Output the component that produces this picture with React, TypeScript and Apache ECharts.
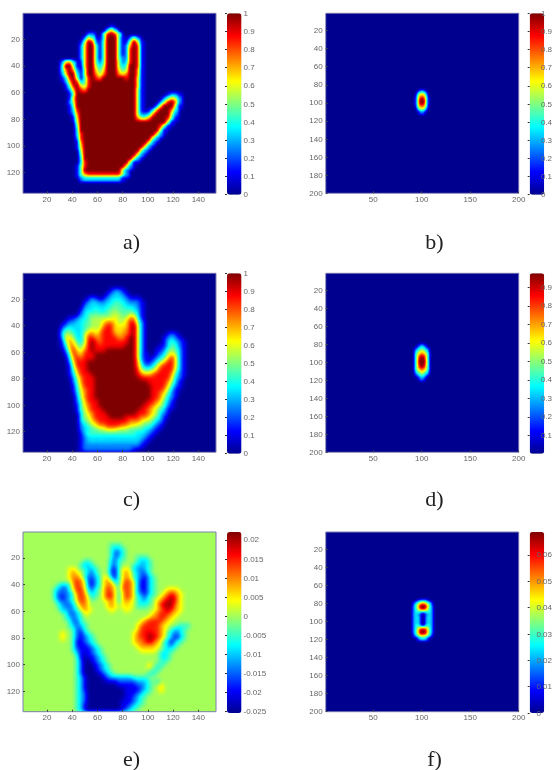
import React, { useEffect, useRef } from "react";
import * as echarts from "echarts";

const JET = ["#00008f", "#0000ff", "#0080ff", "#00ffff", "#80ff80", "#ffff00", "#ff8000", "#ff0000", "#800000"];
const JET_R = "0 0 0 0 0.5 1 1 1 0.5";
const JET_G = "0 0 0.5 1 1 1 0.5 0 0";
const JET_B = "0.56 1 1 1 0.5 0 0 0 0";

// Tick labels
const handXTicks = [20, 40, 60, 80, 100, 120, 140];
const handYTicks = [20, 40, 60, 80, 100, 120];
const psfXTicks = [50, 100, 150, 200];
const psfYTicks = [20, 40, 60, 80, 100, 120, 140, 160, 180, 200];
const unitTicks = [0, 0.1, 0.2, 0.3, 0.4, 0.5, 0.6, 0.7, 0.8, 0.9, 1];
const dTicks = [0.1, 0.2, 0.3, 0.4, 0.5, 0.6, 0.7, 0.8, 0.9];
const eTicks = [-0.025, -0.02, -0.015, -0.01, -0.005, 0, 0.005, 0.01, 0.015, 0.02];
const fTicks = [0, 0.01, 0.02, 0.03, 0.04, 0.05, 0.06];

// Level read for each digit in the rows below
const unitLevels = [0, 0.12, 0.25, 0.35, 0.45, 0.55, 0.65, 0.75, 0.87, 1];
const eLevels = [-0.025, -0.02, -0.015, -0.01, -0.005, 0, 0.005, 0.01, 0.015, 0.02];
const fLevels = [0, 0.008, 0.017, 0.024, 0.031, 0.038, 0.045, 0.052, 0.06, 0.0687];

// Cells, one string per row: "col:digits" or "from-to=digit"
const aRows = [
  "", "", "",
  "23:1",
  "22:363",
  "17:22 21:48984",
  "16:264 20:1399941 28:252",
  "15:15982 20:1499941 27:15961",
  "15:26994 20:1499941 27:27981",
  "15:26994 20:1499941 27:28981",
  "15:26994 20:1499941 27:28981",
  "15:26994149994228981",
  "10:2673 15:16994249995238981",
  "10:39951 16:6995359995349981",
  "10:37972 16:5996469996459971",
  "10:26993 16:5997579997679971",
  "10:138951 16:4898799999989961",
  "11:26983 16:4899999999999961",
  "11:148965 17:899999999999961",
  "12:26987 17:999999999999951",
  "12:14 14-29=9 30:51 38:1221",
  "12:16 14-29=9 30:51 37:24652",
  "12:25 14-29=9 30:51 36:258972",
  "12:14 14-29=9 30:51 35:269995 41:1",
  "12:1 13:38 15-29=9 30:51 33:13799973",
  "13:27 15-29=9 30:5223 34:7 35-38=9 39:52",
  "13:16 15-29=9 30:7557 34-37=9 38:841",
  "14:5 15-37=9 38:51",
  "14:4 15-35=9 36:841",
  "14:3 15-35=9 36:51",
  "14:38 16-34=9 35:62",
  "14:28 16-33=9 34:52",
  "14:17 16-32=9 33:62",
  "14:16 16-31=9 32:62",
  "15:5 16-30=9 31:52",
  "15:4 16-29=9 30:62",
  "15:3 16-28=9 29:62",
  "15:38 17-27=9 28:51",
  "14:148 17-26=9 27:62",
  "14:149 17-25=9 26:52",
  "14:147 17-25=8 26:52",
  "15:2 16-25=3 26:1",
];

const cRows = [
  "", "", "", "",
  "23:1221",
  "22:123321",
  "17:121 21:1233332111",
  "16:1233223344332221",
  "16:2333333444433321",
  "15:13334334454444331",
  "15:23444444555445531",
  "12:11233455555565557741",
  "11:122334455567765568852",
  "10:1233334455578866668962",
  "10:2443334565688866678962",
  "10:3554335776788876778962 38:121",
  "10:2665335887788887789962 37:12321",
  "10:1576435898788888889962 37:134321",
  "10:1377546898888888899962 36:1134421",
  "11:26865789888 22-29=9 30:62 35:11245431",
  "11:148768889 20-29=9 30:621 35:12356531",
  "12:37878889 20-29=9 30:621 34:123468631",
  "12:26888 17-29=9 30:731 33:1235688631",
  "12:15888 17-29=9 30:7422357888631",
  "12:14788 17-29=9 30:8544568888531",
  "12:136888 18-29=9 30:8766788887421",
  "13:257888 19-30=9 31:88888888632",
  "13:247888 19-32=9 33:888887531",
  "13:146888 19-33=9 34:88886421",
  "13:136788 19-33=9 34:8887531",
  "14:35788 19-33=9 34:8876421",
  "14:25788 19-33=9 34:887532",
  "14:246888 20-32=9 33:8876431",
  "14:1467889 21-31=9 32:88765421",
  "14:14578889 22-30=9 31:88765431",
  "15:3567888 22-29=9 30:88876532",
  "15:35578888 23-26=9 27:88887765431",
  "15:34567 20-26=8 27:8777655432",
  "15:2345677888877665544321",
  "15:233445566655544443321",
  "15:13 17-29=4 30:33321",
  "15:12 17-31=3 32:21",
  "15:12 17-30=3 31:21",
  "15:1 16-29=2 30:21",
  "15:1 16-28=2 29:1",
];

const eRows = [
  "", "", "",
  "23:444",
  "23:4334",
  "23:4224",
  "23:4234 30:444",
  "16:44 23:324 30:4334",
  "15:4334 23:324 29:43334",
  "12:66 16:4334 23:21 25:4 26:66 29:33234",
  "12:676 16:4324 23:214 26:676 29:43224",
  "12:6776 16:42234 21:66 23:314 26:676 29:432134",
  "13:787 17:2134 21:676 24:34 26:687 30:31134",
  "9:4334 13:7876 17:2134 21:677 25:4 26:787 30:31134",
  "8:43224 13:6886 17:324 21:6876 25:4 26:787 30:31134 38:666",
  "8:4222 12:3 14:787 17:434 21:6886 25:4 26:687 30:32134 37:67876",
  "8:421234 14:787 18:4 21:6886 25:4 26:687 30:4324 36:678986",
  "9:32234 14:687 22:676 25:4 26:676 30:4334 35:6789986",
  "9:432235 15:77 22:676 26:666 30:444 35:6899976",
  "10:33234 15:676 23:6 27:6 35:6789876",
  "11:42234 16:6 34:6788876",
  "11:43234 33:6778876",
  "12:4224 31:67888876",
  "12:43234 30:67888876 41:444",
  "13:4224 30:68888876 39:4334",
  "10:6 13:42134 29:678898876 38:43234",
  "10:6 13:421234 29:678899876 38:43124",
  "13:411234 29:67789876 37:43134",
  "13:4111234 30:677776 37:4324",
  "13:42111234 31:6666 37:434",
  "14:3111234 36:434",
  "14:41011234 36:434",
  "14:42001234 36:44",
  "14:420001234 33:6 35:44",
  "14:420001234 34:44",
  "14:4200001234 33:44",
  "14:4310000123333334444",
  "14:43100000111222223334 35:4",
  "14:431 17-24=0 25:111112234 36:6",
  "14:431 17-26=0 27:1111234 36:6",
  "14:432 17-26=0 27:111234",
  "14:432 17-26=0 27:11234",
  "14:432 17-25=0 26:111234",
  "14:431 17-25=0 26:11234",
  "14:431 17-25=0 26:1234",
];

const bFirstRow = 43;
const bRows = [
  "44:000012210000",
  "44:000134431000",
  "44:000256652000",
  "44:000367763000",
  "44:001378873100",
  "44:001389983100",
  "44:001389983100",
  "44:001389983100",
  "44:001378873100",
  "44:000367763000",
  "44:000256652000",
  "44:000134431000",
  "44:000012210000",
];

const dFirstRow = 40;
const dRows = [
  "44:000012210000",
  "44:000123321000",
  "44:001234432100",
  "44:002345543200",
  "44:002456654200",
  "44:003567765300",
  "44:003578875300",
  "44:003589985300",
  "44:003589985300",
  "44:003599995300",
  "44:003599995300",
  "44:003589985300",
  "44:003589985300",
  "44:003578875300",
  "44:003567765300",
  "44:002456654200",
  "44:002345543200",
  "44:001234432100",
  "44:000123321000",
  "44:000012210000",
];

const fFirstRow = 38;
const fRows = [
  "44:0001233321000",
  "44:0123455543210",
  "44:0134678764310",
  "44:0235799975320",
  "44:0235799975320",
  "44:0234678764320",
  "44:0234444444320",
  "44:0233321233320",
  "44:0233210123320",
  "44:0233310133320",
  "44:0233310133320",
  "44:0233310133320",
  "44:0233310133320",
  "44:0233310133320",
  "44:0234421244320",
  "44:0234566654320",
  "44:0235788875320",
  "44:0235799975320",
  "44:0235799975320",
  "44:0134677764310",
  "44:0123455543210",
  "44:0001233321000",
];

const captions = ["a)", "b)", "c)", "d)", "e)", "f)"];

function decodeCells(rows: string[], levels: number[], firstRow = 0) {
  const cells = new Map<string, number[]>();
  rows.forEach((row, i) => {
    const r = firstRow + i;
    row.split(" ").filter(Boolean).forEach((token) => {
      if (token.includes("=")) {
        const [span, d] = token.split("=");
        const [from, to] = span.split("-").map(Number);
        for (let c = from; c <= to; c++) cells.set(c + "," + r, [c, r, levels[Number(d)]]);
      } else {
        const [start, digits] = token.split(":");
        [...digits].forEach((d, k) => {
          const c = Number(start) + k;
          cells.set(c + "," + r, [c, r, levels[Number(d)]]);
        });
      }
    });
  });
  return [...cells.values()];
}

const ROWS_Y = { top: [13.3, 180], mid: [273.3, 179], low: [532, 179.7] };
const LEFT_X = 23;
const RIGHT_X = 325.7;
const PLOT_W = 193;
const BLEED = 10;

const panels = [
  { cells: decodeCells(aRows, unitLevels), cols: 51, rows: 45, min: 0, max: 1, x: LEFT_X, y: ROWS_Y.top, hand: true, ticks: unitTicks, barMin: 0, barMax: 1, bg: "#000", blur: 1.6, capY: 241 },
  { cells: decodeCells(bRows, unitLevels, bFirstRow), cols: 100, rows: 100, min: 0, max: 1, x: RIGHT_X, y: ROWS_Y.top, hand: false, ticks: unitTicks, barMin: 0, barMax: 1, bg: "#000", blur: 0.9, capY: 241 },
  { cells: decodeCells(cRows, unitLevels), cols: 51, rows: 45, min: 0, max: 1, x: LEFT_X, y: ROWS_Y.mid, hand: true, ticks: unitTicks, barMin: 0, barMax: 1, bg: "#000", blur: 2, capY: 498 },
  { cells: decodeCells(dRows, unitLevels, dFirstRow), cols: 100, rows: 100, min: 0, max: 1, x: RIGHT_X, y: ROWS_Y.mid, hand: false, ticks: dTicks, barMin: 0.001, barMax: 0.976, bg: "#000", blur: 0.9, capY: 498 },
  { cells: decodeCells(eRows, eLevels), cols: 51, rows: 45, min: -0.0255, max: 0.0221, x: LEFT_X, y: ROWS_Y.low, hand: true, ticks: eTicks, barMin: -0.0255, barMax: 0.0221, bg: "#898989", blur: 2.2, capY: 758 },
  { cells: decodeCells(fRows, fLevels, fFirstRow), cols: 100, rows: 100, min: 0, max: 0.0687, x: RIGHT_X, y: ROWS_Y.low, hand: false, ticks: fTicks, barMin: 0, barMax: 0.0687, bg: "#000", blur: 0.9, capY: 758 },
];

const labelStyle = { color: "#666", fontSize: 8, fontFamily: "Liberation Sans" };

function buildMainOption() {
  const grid: any[] = [];
  const xAxis: any[] = [];
  const yAxis: any[] = [];
  const visualMap: any[] = [];
  const graphic: any[] = [];
  panels.forEach((p, i) => {
    const g = grid.length;
    grid.push({ left: p.x, top: p.y[0], width: PLOT_W, height: p.y[1], show: true, borderColor: "#7f7fb5", borderWidth: 1, backgroundColor: "transparent" });
    const xT = p.hand ? handXTicks : psfXTicks;
    const yT = p.hand ? handYTicks : psfYTicks;
    xAxis.push({
      type: "value", gridIndex: g, min: 1, max: p.hand ? 154 : 200,
      axisLine: { show: false }, splitLine: { show: false },
      axisTick: { show: true, inside: true, length: 2, customValues: xT, lineStyle: { color: "#444" } },
      axisLabel: { margin: 2, customValues: xT, formatter: (v: number) => String(v), ...labelStyle },
    });
    yAxis.push({
      type: "value", gridIndex: g, inverse: true, min: p.hand ? 0.5 : 1, max: p.hand ? 135.5 : 200,
      axisLine: { show: false }, splitLine: { show: false },
      axisTick: { show: true, inside: true, length: 2, customValues: yT, lineStyle: { color: "#444" } },
      axisLabel: { margin: 3, customValues: yT, formatter: (v: number) => String(v), ...labelStyle },
    });
    const barX = p.x + PLOT_W + 11;
    const barH = p.y[1] + 1.4;
    const b = grid.length;
    grid.push({ left: barX, top: p.y[0], width: 14.5, height: barH });
    xAxis.push({ type: "value", gridIndex: b, show: false, min: 0, max: 1 });
    yAxis.push({
      type: "value", gridIndex: b, position: "right", min: p.barMin, max: p.barMax, z: 5,
      axisLine: { show: false }, splitLine: { show: false },
      axisTick: { show: true, inside: true, length: 2, customValues: p.ticks, lineStyle: { color: "#333" } },
      axisLabel: { margin: 2, customValues: p.ticks, formatter: (v: number) => String(v), ...labelStyle },
    });
    visualMap.push({
      type: "continuous", show: true, calculable: false, hoverLink: false, padding: 0,
      min: p.min, max: p.max, left: barX, top: p.y[0], itemWidth: 14.5, itemHeight: barH,
      inRange: { color: JET }, seriesIndex: [],
    });
    graphic.push({
      type: "text", x: (i % 2 === 0 ? 131.5 : 434.5), y: p.capY,
      style: { text: captions[i], fill: "#222", font: "22px 'Liberation Serif'", textAlign: "center", textVerticalAlign: "middle" },
    });
  });
  return { animation: false, backgroundColor: "transparent", grid, xAxis, yAxis, visualMap, graphic, series: [] };
}

function buildHeatOption(p: any) {
  const cat = (n: number) => Array.from({ length: n }, (_, k) => String(k));
  const grey = (v: number) => {
    const g = Math.round((255 * (v - p.min)) / (p.max - p.min));
    return `rgb(${g},${g},${g})`;
  };
  return {
    animation: false,
    backgroundColor: "transparent",
    grid: { left: 0, top: 0, right: 0, bottom: 0 },
    xAxis: { type: "category", show: false, data: cat(p.cols) },
    yAxis: { type: "category", show: false, inverse: true, data: cat(p.rows) },
    // intensity is drawn in grey; the page's SVG filter smooths it and maps it through the jet table
    visualMap: { show: false, min: p.min, max: p.max, inRange: { color: ["#000000", "#ffffff"] }, dimension: 2 },
    series: [{
      type: "heatmap", progressive: 0, silent: true,
      data: p.cells.map((cell: number[]) => ({ value: cell, itemStyle: { borderColor: grey(cell[2]), borderWidth: 1 } })),
    }],
  };
}

export default function App() {
  const mainRef = useRef<HTMLDivElement>(null);
  const heatRefs = useRef<(HTMLDivElement | null)[]>([]);

  useEffect(() => {
    const charts = heatRefs.current.map((el, i) => {
      const c = echarts.init(el as HTMLDivElement, undefined, { renderer: "svg" });
      c.setOption(buildHeatOption(panels[i]) as any);
      return c;
    });
    const main = echarts.init(mainRef.current as HTMLDivElement, undefined, { renderer: "svg" });
    main.setOption(buildMainOption() as any);
    return () => {
      charts.forEach((c) => c.dispose());
      main.dispose();
    };
  }, []);

  return (
    <div style={{ position: "absolute", left: 0, top: 0, width: 555, height: 770, background: "#fff", overflow: "hidden" }}>
      <svg width={0} height={0} style={{ position: "absolute" }}>
        {panels.map((p, i) => (
          <filter key={i} id={"jet" + i} x="0" y="0" width="100%" height="100%" colorInterpolationFilters="sRGB">
            <feGaussianBlur stdDeviation={p.blur} />
            <feComponentTransfer>
              <feFuncR type="table" tableValues={JET_R} />
              <feFuncG type="table" tableValues={JET_G} />
              <feFuncB type="table" tableValues={JET_B} />
            </feComponentTransfer>
          </filter>
        ))}
      </svg>
      {panels.map((p, i) => (
        <div key={i} style={{ position: "absolute", left: p.x, top: p.y[0], width: PLOT_W, height: p.y[1], overflow: "hidden" }}>
          <div style={{ position: "absolute", left: -BLEED, top: -BLEED, width: PLOT_W + 2 * BLEED, height: p.y[1] + 2 * BLEED, background: p.bg, filter: `url(#jet${i})` }}>
            <div
              ref={(el) => { heatRefs.current[i] = el; }}
              style={{ position: "absolute", left: BLEED, top: BLEED, width: PLOT_W, height: p.y[1] }}
            />
          </div>
        </div>
      ))}
      <div ref={mainRef} style={{ position: "absolute", left: 0, top: 0, width: 555, height: 770, filter: "blur(0.4px)" }} />
    </div>
  );
}
